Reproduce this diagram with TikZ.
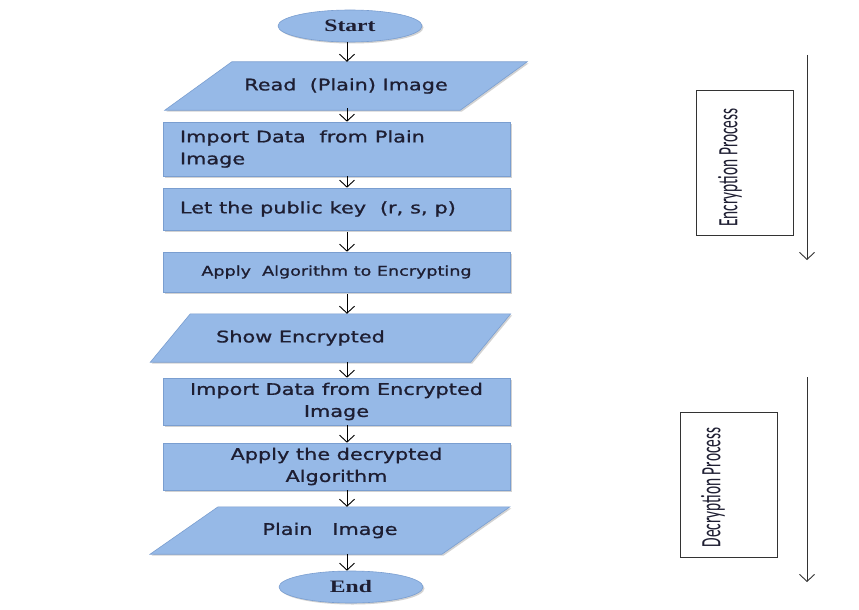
\documentclass[tikz,border=0pt]{standalone}
\usepackage{fontspec}
\setmainfont{DejaVu Sans}
\newfontfamily\boxfont{DejaVu Sans}[FakeBold=0.9]
\newfontfamily\serifbold{Liberation Serif}
\newfontfamily\cali{Carlito}
\usetikzlibrary{arrows.meta,shapes.geometric,backgrounds,shadows}
\definecolor{boxfill}{RGB}{150,185,231}
\definecolor{boxline}{RGB}{122,158,208}
\definecolor{txt}{RGB}{30,30,50}
\newcommand\drawpara[2]{\path[parashape] ([xshift=#2]#1.north west) -- ([xshift=#2]#1.north east) -- ([xshift=-#2]#1.south east) -- ([xshift=-#2]#1.south west) -- cycle;}
\newcommand\sx[1]{\scalebox{1.3}[1]{#1}}
\newcommand\sxe[1]{\scalebox{1.35}[1]{#1}}
\begin{document}
\begin{tikzpicture}[x=1pt,y=-1pt,
  shad/.style={drop shadow={opacity=0.35,shadow xshift=1.5pt,shadow yshift=-1.5pt}},
  rect/.style={rectangle, draw=boxline, fill=boxfill, line width=0.6pt, text=txt, inner sep=0pt,
     minimum width=347, font=\boxfont\fontsize{16}{22}\selectfont, shad},
  lrect/.style={rect, align=left, text width=313, inner xsep=17},
  crect/.style={rect, align=center},
  ell/.style={ellipse, draw=boxline, fill=boxfill, line width=0.6pt, text=txt, inner sep=0pt,
     minimum width=144, minimum height=32, font=\serifbold\bfseries\fontsize{17.5}{20}\selectfont, shad},
  para/.style={rectangle, inner sep=0pt, text=txt, font=\boxfont\fontsize{16}{22}\selectfont, minimum height=48},
  parashape/.style={draw=boxline, fill=boxfill, line width=0.6pt, shad},
  arr/.style={draw=black, line width=0.8pt, -{Straight Barb[length=7pt,width=15pt,line width=0.9pt]}},
  sidebox/.style={rectangle, draw=black!80, line width=0.8pt, fill=white, minimum width=97, minimum height=145},
  sidetxt/.style={rotate=90, inner sep=0pt, text=txt, font=\cali\fontsize{28}{28}\selectfont},
  sidearr/.style={draw=black!80, line width=0.9pt, -{Straight Barb[length=7pt,width=15pt,line width=0.9pt]}}
]
\useasboundingbox (0,0) rectangle (859,610);

\node[ell] (st) at (350,26) {\sxe{Start}};
\node[para, minimum width=295] (rd) at (346,86) {\sx{Read~~(Plain) Image}};
\node[lrect, minimum height=54] (imp) at (336.5,149) {\sx{Import Data~~from Plain}\\\sx{Image}};
\node[lrect, minimum height=42] (key) at (336.5,209) {\sx{Let the public key~~(r, s, p)}};
\node[crect, minimum height=40, font=\boxfont\fontsize{13.5}{15}\selectfont] (alg) at (336.5,272) {\sx{Apply~~Algorithm to Encrypting}};
\node[para, minimum width=320] (shw) at (330.5,338) {\hspace*{-60pt}\sx{Show Encrypted}};
\node[crect, minimum height=47] (ime) at (336.5,401.5) {\sx{Import Data from Encrypted}\\\sx{Image}};
\node[crect, minimum height=47] (dcr) at (336.5,466.5) {\sx{Apply the decrypted}\\\sx{Algorithm}};
\node[para, minimum width=291.5, minimum height=47] (pln) at (330,530.5) {\sx{Plain~~~Image}};
\node[ell] (en) at (351,587) {\sxe{End}};

\begin{scope}[on background layer]
  \fill[white] (0,0) rectangle (859,610);
  \drawpara{rd}{33.5}
  \drawpara{shw}{20}
  \drawpara{pln}{34}
\end{scope}

\coordinate (ax) at (347,0);
\draw[arr] (ax |- st.south) -- (ax |- rd.north);
\draw[arr] ([yshift=2pt]ax |- rd.south) -- (ax |- imp.north);
\draw[arr] (ax |- imp.south) -- (ax |- key.north);
\draw[arr] ([yshift=-2pt]ax |- key.south) -- (ax |- alg.north);
\draw[arr] ([yshift=-2pt]ax |- alg.south) -- (ax |- shw.north);
\draw[arr] (ax |- shw.south) -- (ax |- ime.north);
\draw[arr] (ax |- ime.south) -- (ax |- dcr.north);
\draw[arr] (ax |- dcr.south) -- (ax |- pln.north);
\draw[arr] (ax |- pln.south) -- (ax |- en.north);

\node[sidebox] (encb) at (744.5,162.5) {};
\node[sidetxt] (enct) at (730,167.5) {\scalebox{0.55}[1]{Encryption Process}};
\node[sidebox] (decb) at (728.5,484.5) {};
\node[sidetxt] (dect) at (713,487.5) {\scalebox{0.55}[1]{Decryption Process}};

\coordinate (e1) at (807,55);
\coordinate (e2) at (807,260);
\coordinate (d1) at (807,377);
\coordinate (d2) at (807,582);
\draw[sidearr] (e1) -- (e2);
\draw[sidearr] (d1) -- (d2);
\end{tikzpicture}
\end{document}
